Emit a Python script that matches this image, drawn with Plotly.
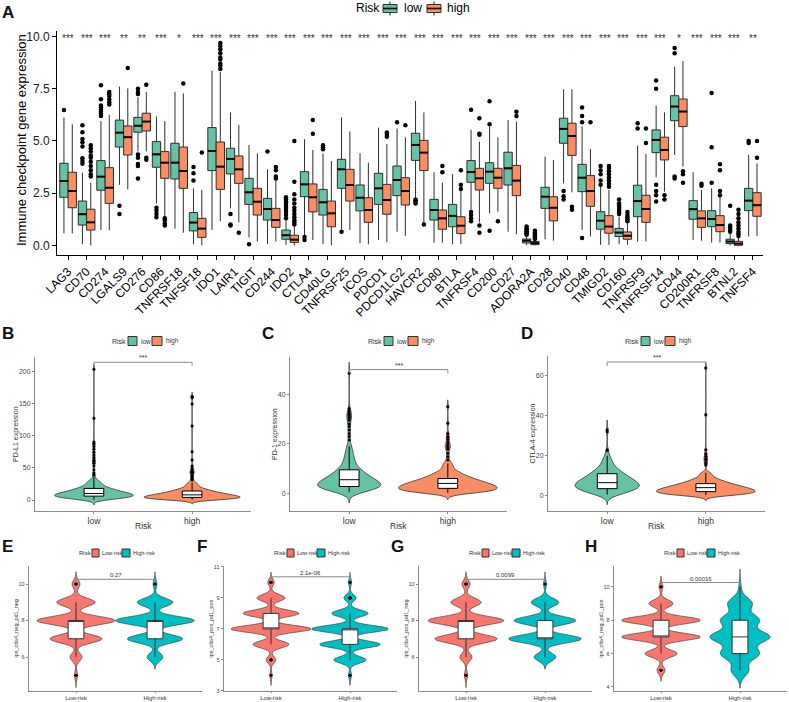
import numpy as np
import plotly.graph_objects as go

# ---------------- Panel A data (box statistics) ----------------
genes = ["LAG3", "CD70", "CD274", "LGALS9", "CD276", "CD86", "TNFRSF18", "TNFSF18", "IDO1", "LAIR1",
         "TIGIT", "CD244", "IDO2", "CTLA4", "CD40LG", "TNFRSF25", "ICOS", "PDCD1", "PDCD1LG2", "HAVCR2",
         "CD80", "BTLA", "TNFRSF4", "CD200", "CD27", "ADORA2A", "CD28", "CD40", "CD48", "TMIGD2",
         "CD160", "TNFRSF9", "TNFRSF14", "CD44", "CD200R1", "TNFRSF8", "BTNL2", "TNFSF4"]
sig = ["***", "***", "***", "**", "**", "***", "*", "***", "***", "***",
       "***", "***", "***", "***", "***", "***", "***", "***", "***", "***",
       "***", "***", "***", "***", "***", "***", "***", "***", "***", "***",
       "***", "***", "***", "*", "***", "***", "***", "**"]

low_lower = [0.57, 0.05, 0.73, 2.9, 4.5, 2.0, 0.8, 0.05, 0.73, 1.77, 0.38, 0.06, 0.02, 0.5, 0.05, 0.77, 0.1, 0.26, 0.65, 2.3,
             0.13, 0.05, 1.7, 1.53, 0.65, 0.0, 0.29, 2.97, 0.73, 0.02, 0.05, 0.18, 3.26, 4.33, 0.26, 0.13, 0.0, 0.42]
low_q1 = [2.3, 0.97, 2.64, 4.71, 5.42, 3.74, 3.18, 0.69, 3.58, 3.42, 1.96, 1.21, 0.29, 2.33, 1.45, 2.73, 1.65, 1.96, 2.38, 4.07,
          1.21, 0.89, 3.02, 2.97, 2.89, 0.11, 1.77, 4.89, 2.57, 0.77, 0.42, 1.37, 4.44, 5.97, 1.25, 0.89, 0.08, 1.66]
low_median = [3.08, 1.49, 3.29, 5.4, 5.73, 4.36, 3.96, 1.09, 4.52, 4.14, 2.54, 1.74, 0.48, 2.92, 2.06, 3.64, 2.28, 2.73, 3.13, 4.81,
              1.69, 1.41, 3.51, 3.53, 3.69, 0.22, 2.33, 5.58, 3.24, 1.18, 0.61, 2.12, 5.05, 6.65, 1.73, 1.26, 0.18, 2.14]
low_q3 = [3.93, 2.12, 4.06, 6.0, 6.13, 4.97, 4.89, 1.57, 5.64, 4.65, 3.21, 2.25, 0.73, 3.53, 2.68, 4.12, 2.89, 3.45, 3.8, 5.37,
          2.2, 1.96, 4.06, 3.96, 4.46, 0.3, 2.78, 6.09, 3.88, 1.61, 0.81, 2.88, 5.53, 7.17, 2.14, 1.66, 0.29, 2.73]
low_upper = [6.13, 3.48, 5.95, 7.6, 7.1, 6.17, 7.36, 2.73, 8.37, 6.36, 4.81, 3.64, 1.2, 5.08, 4.41, 6.13, 4.41, 5.64, 5.6, 6.92,
             3.5, 3.42, 5.53, 5.69, 6.0, 0.45, 4.25, 7.48, 5.7, 2.81, 1.37, 4.78, 6.69, 8.56, 3.5, 2.73, 0.55, 4.33]
low_outliers = [[6.48], [3.91, 4.04, 4.17, 4.74, 4.94, 5.1, 5.42, 5.75], [6.2, 6.3, 6.4, 6.5, 6.6, 6.7, 7.0, 7.67],
                [1.9, 1.5], [7.5, 7.35, 7.25, 4.35, 4.2, 3.9, 3.8, 3.2], [1.8, 1.65, 1.5, 1.35], [],
                [3.1, 3.45, 3.75], [], [1.5, 1.0, 0.95], [0.05], [4.5],
                [1.3, 1.45, 1.6, 1.7, 1.8, 1.9, 2.0, 2.1, 2.2, 2.3], [0.4, 0.25], [4.6, 4.7, 4.8], [0.65], [], [],
                [5.9], [2.2, 2.15, 2.05, 2.0], [], [], [6.5, 1.6, 1.45, 1.3, 1.15], [6.9, 5.8, 0.7], [],
                [0.5, 0.55, 0.6, 0.65, 0.7, 0.75, 0.8, 0.9], [], [2.6, 2.35, 2.2], [6.6, 6.2, 5.9, 0.35],
                [2.9, 3.1, 3.4, 3.6, 3.8], [1.5, 1.6, 1.7, 1.8, 1.9, 2.0, 2.2], [5.6, 5.85],
                [7.9, 7.5, 2.9, 2.6, 2.4, 2.1], [9.45, 9.2, 3.3, 3.2], [], [7.3, 4.7, 3.0],
                [0.65, 0.75, 0.85, 0.95, 1.9], [4.9, 5.0]]

high_lower = [0.57, 0.0, 0.73, 2.68, 4.5, 1.37, 0.6, 0.0, 1.15, 1.09, 0.18, 0.18, 0.0, 0.25, 0.0, 0.73, 0.05, 0.15, 0.45, 1.05,
              0.13, 0.05, 1.09, 1.61, 0.53, 0.0, 0.22, 2.54, 0.42, 0.02, 0.02, 0.18, 2.57, 3.77, 0.22, 0.13, 0.0, 0.45]
high_q1 = [1.8, 0.73, 2.01, 4.33, 5.48, 3.21, 2.73, 0.38, 2.68, 2.97, 1.45, 0.86, 0.14, 1.6, 0.89, 2.12, 1.1, 1.49, 1.93, 3.58,
           0.77, 0.56, 2.65, 2.73, 2.38, 0.03, 1.17, 4.31, 1.87, 0.58, 0.29, 1.1, 4.09, 5.69, 0.86, 0.65, 0.0, 1.39]
high_median = [2.6, 1.1, 2.76, 5.18, 5.93, 3.96, 3.56, 0.8, 3.77, 3.64, 2.09, 1.21, 0.27, 2.3, 1.53, 2.89, 1.69, 2.17, 2.6, 4.44,
               1.29, 0.94, 3.21, 3.24, 3.1, 0.1, 1.8, 5.24, 2.6, 0.9, 0.46, 1.74, 4.57, 6.41, 1.29, 0.97, 0.08, 1.92]
high_q3 = [3.5, 1.73, 3.72, 5.72, 6.33, 4.49, 4.71, 1.29, 4.95, 4.28, 2.73, 1.77, 0.48, 2.94, 2.12, 3.64, 2.28, 2.92, 3.24, 5.03,
           1.69, 1.37, 3.69, 3.69, 3.83, 0.18, 2.33, 5.85, 3.34, 1.42, 0.64, 2.4, 5.18, 7.01, 1.65, 1.42, 0.19, 2.52]
high_upper = [5.8, 3.0, 6.25, 7.52, 7.36, 5.95, 7.28, 2.65, 8.3, 5.77, 4.41, 3.1, 0.9, 4.57, 4.04, 5.45, 3.96, 4.86, 5.18, 6.37,
              3.0, 2.6, 4.97, 5.18, 5.93, 0.25, 4.09, 7.48, 4.62, 2.65, 1.05, 4.38, 6.37, 8.83, 2.65, 2.3, 0.4, 3.93]
high_outliers = [[], [3.3, 3.4, 3.6, 3.8, 4.0, 4.2, 4.3, 4.5, 4.65, 4.8], [6.75, 6.85, 7.0, 7.15, 7.25, 7.35], [8.5],
                 [7.7, 4.2, 4.1], [1.3, 1.2, 1.05, 0.95], [7.75], [4.45],
                 [8.45, 8.6, 8.7, 8.9, 9.0, 9.2, 9.4, 9.55, 9.7], [0.6], [], [3.2, 3.3, 3.6, 3.75],
                 [1.0, 1.1, 1.2, 1.35, 1.5, 1.65, 1.8, 2.0, 2.2, 2.45, 3.05, 5.0], [6.0, 5.35], [], [], [],
                 [5.2, 5.3, 5.4], [5.75], [1.0], [3.5, 3.8], [2.7, 2.9, 3.6], [6.09, 5.35, 5.3, 0.95, 0.6],
                 [1.15], [6.2, 6.4], [0.3, 0.35, 0.4, 0.45, 0.5, 0.55, 0.6, 0.7], [], [1.85, 1.7], [5.9],
                 [2.8, 2.95, 3.1, 3.25, 3.4, 3.55, 3.7, 3.8], [1.15, 1.25, 1.35, 1.45, 1.6], [4.9, 5.6],
                 [2.4, 2.2], [3.55, 3.4, 3.0], [2.85, 2.95], [2.4, 2.6, 3.6, 3.88],
                 [0.45, 0.55, 0.65, 0.8, 0.95, 1.1, 1.3, 1.5, 1.7], [4.2, 5.0]]

# ---------------- Panels B-D data (binned values and counts, plus outliers) ----------------
pdl1_low_values = [0.5, 2, 4, 6, 8, 10, 12, 14, 16, 18, 20, 23, 26, 29, 32]
pdl1_low_counts = [6, 14, 22, 26, 24, 22, 18, 15, 12, 10, 9, 8, 7, 5, 3]
pdl1_low_outliers = [36, 39, 42, 47, 53, 57, 60, 62, 66, 70, 74, 79, 83, 87, 90, 127, 203]
pdl1_high_values = [0.5, 2, 4, 6, 8, 10, 12, 14, 16, 18, 21, 24, 27]
pdl1_high_counts = [14, 26, 30, 26, 22, 18, 14, 11, 9, 7, 6, 5, 4]
pdl1_high_outliers = [31, 33, 36, 38, 41, 43, 44, 45, 49, 53, 62, 75, 115, 149, 159, 161]

pd1_low_values = [0.5, 1.5, 2.5, 3.5, 4.5, 5.5, 6.5, 7.5, 8.5, 9.5, 11, 13, 15, 17, 19]
pd1_low_counts = [10, 20, 26, 26, 22, 19, 16, 13, 11, 9, 11, 8, 7, 5, 4]
pd1_low_outliers = [21.5, 23, 24.2, 25.6, 27, 28, 29.5, 30, 30.5, 31, 31.5, 32, 32.6, 33.4, 34.3, 48.5]
pd1_high_values = [0.25, 1, 2, 3, 4, 5, 6, 7, 8, 9, 10.5, 12]
pd1_high_counts = [14, 26, 30, 28, 24, 19, 15, 11, 8, 6, 5, 4]
pd1_high_outliers = [13.5, 14.8, 16.2, 17.8, 18.5, 19.1, 19.5, 20.5, 21.8, 22.9, 24.2, 28.3, 35]

ctla4_low_values = [0.5, 2, 3.5, 5, 6.5, 8, 9.5, 11, 12.5, 14, 16, 18, 20]
ctla4_low_counts = [10, 20, 26, 30, 26, 22, 18, 14, 11, 8, 7, 5, 3]
ctla4_low_outliers = [22.5, 23, 32, 33]
ctla4_high_values = [0.25, 1, 2, 3, 4, 5, 6, 7, 8, 9, 10.5, 11.5]
ctla4_high_counts = [14, 26, 30, 28, 24, 19, 15, 11, 8, 6, 5, 3]
ctla4_high_outliers = [15.4, 16.5, 17.9, 18.5, 19.6, 21, 23, 40.5, 64]

# ---------------- Panels E-H data (IPS scores: counts per integer score) ----------------
ips_scores = [4, 5, 6, 7, 8, 9, 10]
E_low_counts = [0, 4, 15, 65, 98, 48, 10]
E_high_counts = [0, 0, 20, 70, 100, 45, 5]
F_low_counts = [3, 12, 45, 100, 70, 35, 8]
F_high_counts = [4, 40, 75, 95, 45, 15, 4]
G_low_counts = [0, 4, 15, 78, 95, 38, 10]
G_high_counts = [0, 0, 30, 100, 85, 38, 4]
H_low_counts = [0, 10, 40, 98, 98, 30, 5]
H_high_counts = [0, 25, 55, 85, 55, 35, 3]
p_values = ["0.27", "2.1e-06", "0.0099", "0.00016"]

# ---------------- helpers ----------------
W, H = 789, 702
FONT = "Liberation Sans, Arial, sans-serif"
GREEN, ORANGE = "#66C2A5", "#FC8D62"
RED, CYAN = "#F8766D", "#00BFC4"


def dxp(a, b):
    return [a / W, b / W]


def dyp(top, bottom):
    return [1 - bottom / H, 1 - top / H]


def px(x):
    return x / W


def py(y):
    return 1 - y / H


def expand(values, counts, extra=()):
    return np.concatenate([np.repeat(np.asarray(values, float), counts), np.asarray(extra, float)])


def nrd0(x):
    sd = np.std(x, ddof=1)
    q75, q25 = np.percentile(x, [75, 25])
    lo = min(sd, (q75 - q25) / 1.34)
    return 0.9 * lo * len(x) ** -0.2


fig = go.Figure()
annotations = []
shapes = []


def text(x, y, s, size, color="#222", xanchor="left", angle=0, bold=False):
    annotations.append(dict(x=px(x), y=py(y), xref="paper", yref="paper",
                            text=("<b>%s</b>" % s) if bold else s, showarrow=False,
                            xanchor=xanchor, yanchor="middle", textangle=angle, borderpad=0,
                            font=dict(size=size, color=color, family=FONT)))


def key_rect(x0, x1, yc, h, color, lw=1):
    shapes.append(dict(type="rect", xref="paper", yref="paper", x0=px(x0), x1=px(x1),
                       y0=py(yc + h / 2), y1=py(yc - h / 2), fillcolor=color,
                       line=dict(color="#333333", width=lw)))


def key_line(x0, y0, x1, y1, color="#222", lw=1):
    shapes.append(dict(type="line", xref="paper", yref="paper", x0=px(x0), x1=px(x1),
                       y0=py(y0), y1=py(y1), line=dict(color=color, width=lw)))


# ---------------- Panel A ----------------
idx = np.arange(len(genes))
groups = [
    ("low", idx - 0.225, low_lower, low_q1, low_median, low_q3, low_upper, low_outliers, GREEN),
    ("high", idx + 0.225, high_lower, high_q1, high_median, high_q3, high_upper, high_outliers, ORANGE),
]
for name, xs, lo, q1, med, q3, hi, outs, col in groups:
    fig.add_trace(go.Box(x=list(xs), q1=q1, median=med, q3=q3, lowerfence=lo, upperfence=hi,
                         orientation="v", width=0.45, whiskerwidth=0, fillcolor=col,
                         line=dict(color="#2e2e2e", width=1), name=name, showlegend=False,
                         boxpoints=False, hoverinfo="skip", xaxis="x", yaxis="y"))
    mx, my = [], []
    for x, m in zip(xs, med):
        mx += [x - 0.225, x + 0.225, None]
        my += [m, m, None]
    fig.add_trace(go.Scatter(x=mx, y=my, mode="lines", line=dict(color="black", width=2),
                             showlegend=False, hoverinfo="skip", xaxis="x", yaxis="y"))
    ox, oy = [], []
    for x, o in zip(xs, outs):
        ox += [x] * len(o)
        oy += list(o)
    fig.add_trace(go.Scatter(x=ox, y=oy, mode="markers", marker=dict(color="black", size=4.5),
                             showlegend=False, hoverinfo="skip", xaxis="x", yaxis="y"))

for i, s in enumerate(sig):
    annotations.append(dict(x=i, y=10, xref="x", yref="y", text=s, showarrow=False, yshift=-2,
                            font=dict(size=10, color="#333333", family=FONT)))

layout_axes = {}
layout_axes["xaxis"] = dict(domain=dxp(57, 763), range=[-0.6, 37.55], tickmode="array",
                            tickvals=list(idx), ticktext=genes, tickangle=-45, ticks="outside",
                            ticklen=4, tickcolor="black", showline=True, linecolor="black",
                            linewidth=1, showgrid=False, zeroline=False, automargin=False,
                            tickfont=dict(size=12, color="black", family=FONT), anchor="y")
layout_axes["yaxis"] = dict(domain=dyp(31, 255), range=[-0.465, 10.27], tickmode="array",
                            tickvals=[0, 2.5, 5, 7.5, 10], ticktext=["0.0", "2.5", "5.0", "7.5", "10.0"],
                            ticks="outside", ticklen=4, tickcolor="black", showline=True,
                            linecolor="black", linewidth=1, showgrid=False, zeroline=False,
                            automargin=False, tickfont=dict(size=12, color="#222", family=FONT),
                            anchor="x")
text(21, 140, "Immune checkpoint gene expression", 13, "black", "center", -90)

# legend of panel A (Risk: low / high, boxplot keys)
text(355, 8.5, "Risk", 12, "black")
for (x0, x1), col, lab, tx in [((383, 397), GREEN, "low", 403), ((427, 441), ORANGE, "high", 446)]:
    xc = (x0 + x1) / 2
    key_line(xc, 1.5, xc, 4.5)
    key_line(xc, 12.5, xc, 15.5)
    key_rect(x0, x1, 8.5, 8, col)
    key_line(x0, 8.5, x1, 8.5, "black", 1.6)
    text(tx, 8.5, lab, 12, "black")

# ---------------- Panels B-H (violins) ----------------
panels = [
    dict(n=2, cats=["low", "high"], colors=[GREEN, ORANGE],
         data=[expand(pdl1_low_values, pdl1_low_counts, pdl1_low_outliers),
               expand(pdl1_high_values, pdl1_high_counts, pdl1_high_outliers)],
         vw=[0.8, 0.98], xd=(35, 251), yd=(357, 511), yr=[-17.1, 222.2], tv=[0, 50, 100, 150, 200],
         ytitle="PD-L1 expression", tx=16, br=(214, 208), label="***", leg=111, big=True),
    dict(n=3, cats=["low", "high"], colors=[GREEN, ORANGE],
         data=[expand(pd1_low_values, pd1_low_counts, pd1_low_outliers),
               expand(pd1_high_values, pd1_high_counts, pd1_high_outliers)],
         vw=[0.64, 1.0], xd=(290, 507), yd=(357, 511), yr=[-7.15, 55.1], tv=[0, 20, 40],
         ytitle="PD-1 expression", tx=275, br=(50, 48.5), label="***", leg=367, big=True),
    dict(n=4, cats=["low", "high"], colors=[GREEN, ORANGE],
         data=[expand(ctla4_low_values, ctla4_low_counts, ctla4_low_outliers),
               expand(ctla4_high_values, ctla4_high_counts, ctla4_high_outliers)],
         vw=[0.65, 1.0], xd=(548, 765), yd=(356, 511), yr=[-7.7, 70.0], tv=[0, 20, 40, 60],
         ytitle="CTLA-4 expression", tx=532, br=(67, 65), label="***", leg=624, big=True),
    dict(n=5, cats=["Low-risk", "High-risk"], colors=[RED, CYAN],
         data=[expand(ips_scores, E_low_counts), expand(ips_scores, E_high_counts)],
         vw=[0.99, 1.0], xd=(28.6, 202.4), yd=(566, 691), yr=[4.14, 10.99], tv=[6, 8, 10],
         ytitle="ips_ctla4_neg_pd1_neg", tx=15, br=(10.26, 10.05), label=p_values[0], leg=78, big=False),
    dict(n=6, cats=["Low-risk", "High-risk"], colors=[RED, CYAN],
         data=[expand(ips_scores, F_low_counts), expand(ips_scores, F_high_counts)],
         vw=[1.0, 0.96], xd=(223.6, 397.4), yd=(566, 691), yr=[2.99, 11.06], tv=[3, 5, 7, 9, 11],
         ytitle="ips_ctla4_pos_pd1_pos", tx=210, br=(10.36, 10.12), label=p_values[1], leg=273, big=False),
    dict(n=7, cats=["Low-risk", "High-risk"], colors=[RED, CYAN],
         data=[expand(ips_scores, G_low_counts), expand(ips_scores, G_high_counts)],
         vw=[0.96, 0.92], xd=(418.6, 592.4), yd=(566, 691), yr=[4.14, 10.99], tv=[6, 8, 10],
         ytitle="ips_ctla4_pos_pd1_neg", tx=405, br=(10.26, 10.05), label=p_values[2], leg=468, big=False),
    dict(n=8, cats=["Low-risk", "High-risk"], colors=[RED, CYAN],
         data=[expand(ips_scores, H_low_counts), expand(ips_scores, H_high_counts)],
         vw=[0.99, 0.76], xd=(613.6, 787.4), yd=(566, 691), yr=[3.76, 11.25], tv=[4, 6, 8, 10],
         ytitle="ips_ctla4_neg_pd1_pos", tx=600, br=(10.26, 10.05), label=p_values[3], leg=663, big=False),
]

for p in panels:
    n = p["n"]
    xa, ya = "x%d" % n, "y%d" % n
    big = p["big"]
    for cat, col, d, vw in zip(p["cats"], p["colors"], p["data"], p["vw"]):
        bw = nrd0(d)
        fig.add_trace(go.Violin(
            x=[cat] * len(d), y=d, name=cat, showlegend=False, xaxis=xa, yaxis=ya,
            fillcolor=col, line=dict(color="#333333", width=0.8 if big else 0.6), opacity=1,
            width=vw, bandwidth=bw, spanmode="manual", span=[d.min() - 3 * bw, d.max() + 3 * bw],
            scalemode="width", points="outliers", pointpos=0, jitter=0,
            marker=dict(color="black", size=3 if big else 2.6, line=dict(width=0)),
            box=dict(visible=True, width=0.2 / vw, fillcolor="white",
                     line=dict(color="black" if big else "#333", width=1)),
            meanline=dict(visible=False), hoverinfo="skip"))
    axcol = "#8c8c8c"
    layout_axes["xaxis%d" % n] = dict(
        domain=dxp(*p["xd"]), type="category", categoryorder="array", categoryarray=p["cats"],
        range=[-0.6, 1.6], showline=True, linecolor=axcol, linewidth=1, ticks="outside",
        ticklen=2 if big else 1, tickcolor=axcol, showgrid=False, zeroline=False, automargin=False,
        tickfont=dict(size=8.5 if big else 5.8, color="#333", family=FONT), anchor=ya)
    layout_axes["yaxis%d" % n] = dict(
        domain=dyp(*p["yd"]), range=p["yr"], tickmode="array", tickvals=p["tv"], showline=True,
        linecolor=axcol, linewidth=1, ticks="outside", ticklen=2, tickcolor=axcol,
        showgrid=False, zeroline=False, automargin=False, anchor=xa,
        tickfont=dict(size=7 if big else 5.5, color="#444", family=FONT))
    ymid = (p["yd"][0] + p["yd"][1]) / 2
    text(p["tx"], ymid, p["ytitle"], 7 if big else 5.5, "#333", "center", -90)
    x0, x1 = p["xd"]
    if big:
        text((x0 + x1) / 2, 526, "Risk", 8.5, "#333", "center")
    # significance bracket
    ytop, ytick = p["br"]
    brc = "#8a8a8a"
    shapes.extend([
        dict(type="line", xref=xa, yref=ya, x0=0, x1=1, y0=ytop, y1=ytop, line=dict(color=brc, width=1)),
        dict(type="line", xref=xa, yref=ya, x0=0, x1=0, y0=ytick, y1=ytop, line=dict(color=brc, width=1)),
        dict(type="line", xref=xa, yref=ya, x0=1, x1=1, y0=ytick, y1=ytop, line=dict(color=brc, width=1)),
    ])
    annotations.append(dict(x=0.5, y=ytop, xref=xa, yref=ya, text=p["label"], showarrow=False,
                            yanchor="bottom", yshift=-1,
                            font=dict(size=7 if big else 6, color="#333", family=FONT)))
    # legend (Risk: two filled keys)
    L = p["leg"]
    if big:
        yc = 341
        text(L, yc, "Risk", 7, "#333")
        key_rect(L + 17, L + 26, yc, 9, p["colors"][0])
        text(L + 29, yc, p["cats"][0], 6.5, "#333")
        key_rect(L + 41, L + 51, yc, 9, p["colors"][1])
        text(L + 54, yc, p["cats"][1], 6.5, "#333")
    else:
        yc = 553
        text(L, yc, "Risk", 6, "#333")
        key_rect(L + 14, L + 21, yc, 8, p["colors"][0])
        text(L + 23, yc, p["cats"][0], 5.5, "#333")
        key_rect(L + 44, L + 52, yc, 8, p["colors"][1])
        text(L + 54, yc, p["cats"][1], 5.5, "#333")

# ---------------- panel letters ----------------
for letter, x, y in [("A", 8, 12), ("B", 8, 333), ("C", 268, 333), ("D", 527, 333),
                     ("E", 8, 546), ("F", 202, 546), ("G", 397, 546), ("H", 591, 546)]:
    text(x, y, letter, 17, "#111", "center", 0, True)

fig.update_layout(
    width=W, height=H, autosize=False, template="none", showlegend=False,
    margin=dict(l=0, r=0, t=0, b=0, pad=0),
    paper_bgcolor="white", plot_bgcolor="white",
    font=dict(family=FONT, color="#222"),
    boxmode="overlay", violinmode="overlay", hovermode=False,
    annotations=annotations, shapes=shapes,
    **layout_axes,
)

fig.write_html("out.html", config={"displayModeBar": False},
               post_script="document.body.style.margin='0px';document.body.style.overflow='hidden';")
